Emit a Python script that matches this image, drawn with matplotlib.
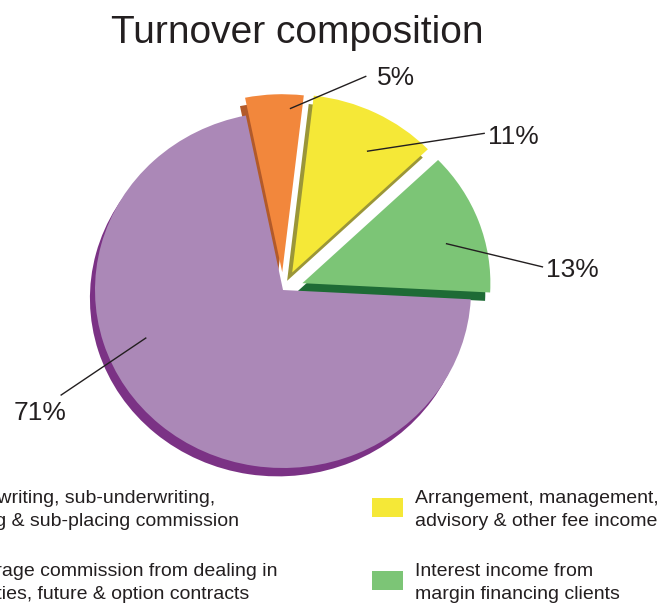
import matplotlib
matplotlib.use("Agg")
import matplotlib.pyplot as plt
from matplotlib.patches import Rectangle

plt.rcParams["font.family"] = ["Liberation Sans", "DejaVu Sans"]

# ---------------------------------------------------------------
# Datos
# ---------------------------------------------------------------
categorias = [
    "Underwriting, sub-underwriting,\nplacing & sub-placing commission",
    "Brokerage commission from dealing in\nsecurities, future & option contracts",
    "Arrangement, management,\nadvisory & other fee income",
    "Interest income from\nmargin financing clients",
]
porcentajes = [5, 71, 11, 13]
colores = ["#f2873c", "#ab88b7", "#f5e837", "#7cc576"]
colores_lado = ["#b25a2a", "#7b3285", "#9b9638", "#1e6b35"]
explode = [0.10, 0.0, 0.11, 0.11]

# orden de dibujo (antihorario): verde, amarillo, naranja, morado
orden = [3, 2, 0, 1]

# posiciones de etiquetas (inicio de línea, fin de línea, texto) en unidades del pastel
etiquetas_pos = {
    0: ((0.04, 1.02), (0.44, 1.20), (0.50, 1.19), "left"),
    2: ((0.45, 0.78), (1.07, 0.88), (1.09, 0.86), "left"),
    3: ((0.87, 0.26), (1.38, 0.13), (1.40, 0.11), "left"),
    1: ((-0.73, -0.27), (-1.18, -0.59), (-1.15, -0.69), "right"),
}

TXT = "#231f20"
W, H = 660, 606

fig = plt.figure(figsize=(6.6, 6.06), dpi=100)
# centro del pastel en (283, 290) px, radio ~188 px (x) y ~178 px (y)
ax = fig.add_axes([1 / W, 49 / H, 564 / W, 534 / H])

vals = [porcentajes[i] for i in orden]
exp = [explode[i] for i in orden]

# lado oscuro (efecto 3D)
ax.pie(vals, explode=exp, colors=[colores_lado[i] for i in orden],
       startangle=-3, counterclock=True, radius=1.0, center=(-0.027, -0.047),
       wedgeprops=dict(linewidth=0))
# cara superior
ax.pie(vals, explode=exp, colors=[colores[i] for i in orden],
       startangle=-3, counterclock=True, radius=1.0, center=(0, 0),
       wedgeprops=dict(linewidth=0))

ax.set_aspect("auto")
ax.set_xlim(-1.5, 1.5)
ax.set_ylim(-1.5, 1.5)
ax.axis("off")

for i, (p0, p1, pt, ha) in etiquetas_pos.items():
    ax.plot([p0[0], p1[0]], [p0[1], p1[1]], color="#231f20", lw=1.0,
            clip_on=False)
    ax.text(pt[0], pt[1], f"{porcentajes[i]}%", fontsize=19, color=TXT,
            ha=ha, va="center", clip_on=False)

fig.text(297 / W, 1 - 33 / H, "Turnover composition", fontsize=28,
         color=TXT, ha="center", va="center")

# Leyenda manual en dos columnas (la izquierda queda cortada en el borde)
leyenda_x = [-56, -56, 415, 415]
leyenda_y = [510, 583, 510, 583]
for i, cat in enumerate(categorias):
    x0, yc = leyenda_x[i], leyenda_y[i]
    fig.patches.append(Rectangle(((x0 - 43) / W, 1 - (yc - 12 + 19) / H),
                                 31 / W, 19 / H, transform=fig.transFigure,
                                 facecolor=colores[i], edgecolor="none"))
    fig.text(x0 / W, 1 - yc / H, cat, fontsize=14, color=TXT,
             ha="left", va="center", linespacing=1.45)

fig.savefig("out.png", dpi=100)
